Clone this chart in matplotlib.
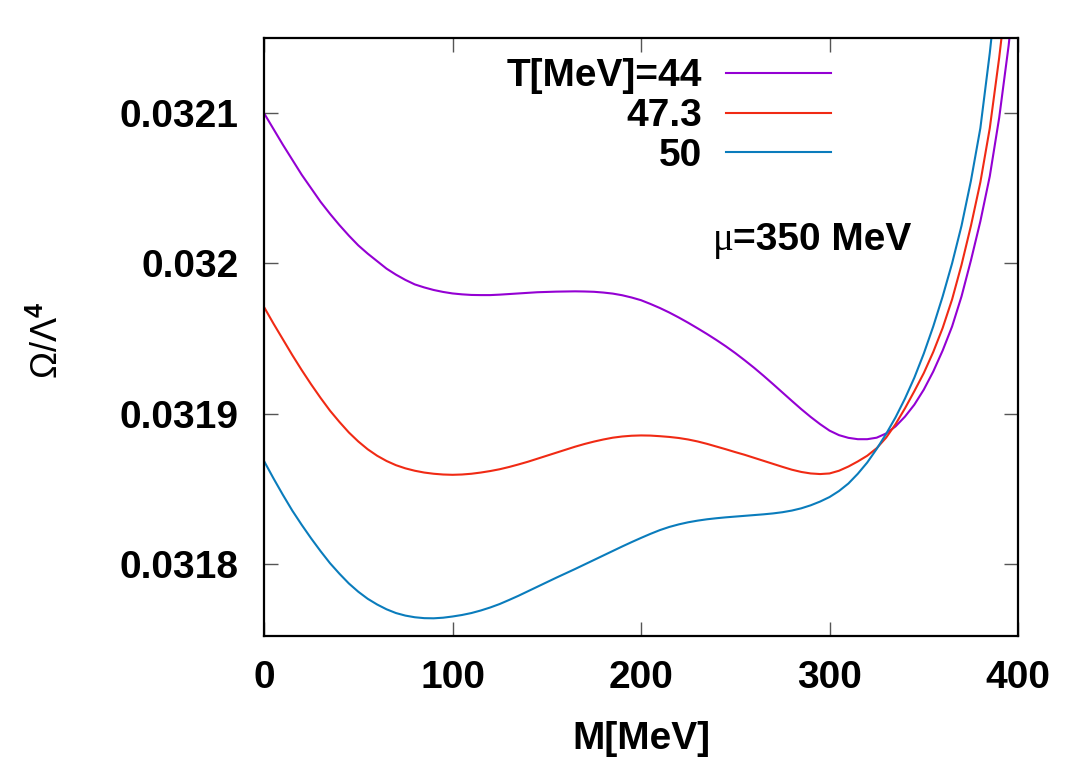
import matplotlib
matplotlib.use('Agg')
import matplotlib.pyplot as plt
from matplotlib.ticker import FixedLocator, FixedFormatter

plt.rcParams['font.family'] = ['Liberation Sans', 'DejaVu Sans']
plt.rcParams['mathtext.fontset'] = 'custom'
plt.rcParams['mathtext.rm'] = 'Liberation Sans'
plt.rcParams['mathtext.bf'] = 'Liberation Sans:bold'

# values, M in MeV
m_grid = [0, 5, 10, 15, 20, 25, 30, 35, 40, 45, 50, 55, 60, 65, 70, 75, 80, 85, 90, 95,
          100, 105, 110, 115, 120, 125, 130, 135, 140, 145, 150, 155, 160, 165, 170, 175,
          180, 185, 190, 195, 200, 205, 210, 215, 220, 225, 230, 235, 240, 245, 250, 255,
          260, 265, 270, 275, 280, 285, 290, 295, 300, 305, 310, 315, 320, 325, 330, 335,
          340, 345, 350, 355, 360, 365, 370, 375, 380, 385, 390, 395]

m_44 = m_grid + [398]
omega_44 = [0.0321000, 0.0320895, 0.0320790, 0.0320690, 0.0320590, 0.0320500, 0.0320410,
            0.0320330, 0.0320255, 0.0320185, 0.0320120, 0.0320065, 0.0320015, 0.0319965,
            0.0319925, 0.0319890, 0.0319860, 0.0319840, 0.0319823, 0.0319810, 0.0319800,
            0.0319794, 0.0319790, 0.0319789, 0.0319789, 0.0319792, 0.0319796, 0.0319800,
            0.0319804, 0.0319808, 0.0319810, 0.0319812, 0.0319813, 0.0319814, 0.0319813,
            0.0319811, 0.0319806, 0.0319799, 0.0319788, 0.0319773, 0.0319755, 0.0319730,
            0.0319703, 0.0319673, 0.0319640, 0.0319605, 0.0319568, 0.0319530, 0.0319490,
            0.0319448, 0.0319403, 0.0319355, 0.0319305, 0.0319252, 0.0319197, 0.0319141,
            0.0319085, 0.0319030, 0.0318978, 0.0318930, 0.0318887, 0.0318857, 0.0318839,
            0.0318830, 0.0318830, 0.0318840, 0.0318868, 0.0318915, 0.0318980, 0.0319060,
            0.0319160, 0.0319280, 0.0319420, 0.0319580, 0.0319780, 0.0320020, 0.0320280,
            0.0320580, 0.0320970, 0.0321450, 0.0321800]

m_473 = m_grid[:79] + [394]
omega_473 = [0.0319710, 0.0319600, 0.0319495, 0.0319390, 0.0319290, 0.0319195, 0.0319105,
             0.0319020, 0.0318945, 0.0318875, 0.0318815, 0.0318763, 0.0318720, 0.0318685,
             0.0318657, 0.0318636, 0.0318620, 0.0318608, 0.0318600, 0.0318595, 0.0318593,
             0.0318595, 0.0318600, 0.0318608, 0.0318618, 0.0318630, 0.0318645, 0.0318662,
             0.0318680, 0.0318700, 0.0318720, 0.0318740, 0.0318760, 0.0318780, 0.0318798,
             0.0318814, 0.0318828, 0.0318840, 0.0318848, 0.0318853, 0.0318855, 0.0318854,
             0.0318850, 0.0318845, 0.0318838, 0.0318828, 0.0318815, 0.0318799, 0.0318781,
             0.0318763, 0.0318744, 0.0318726, 0.0318706, 0.0318686, 0.0318666, 0.0318646,
             0.0318627, 0.0318612, 0.0318602, 0.0318598, 0.0318602, 0.0318620, 0.0318648,
             0.0318682, 0.0318720, 0.0318770, 0.0318840, 0.0318930, 0.0319035, 0.0319150,
             0.0319270, 0.0319410, 0.0319570, 0.0319760, 0.0319990, 0.0320250, 0.0320540,
             0.0320900, 0.0321370, 0.0321800]

m_50 = m_grid[:78] + [388]
omega_50 = [0.0318685, 0.0318570, 0.0318460, 0.0318355, 0.0318260, 0.0318170, 0.0318085,
            0.0318005, 0.0317935, 0.0317870, 0.0317815, 0.0317768, 0.0317730, 0.0317698,
            0.0317673, 0.0317656, 0.0317645, 0.0317639, 0.0317638, 0.0317642, 0.0317650,
            0.0317660, 0.0317673, 0.0317690, 0.0317710, 0.0317733, 0.0317760, 0.0317788,
            0.0317818, 0.0317848, 0.0317878, 0.0317908, 0.0317937, 0.0317966, 0.0317996,
            0.0318026, 0.0318056, 0.0318086, 0.0318116, 0.0318145, 0.0318173, 0.0318200,
            0.0318225, 0.0318246, 0.0318263, 0.0318277, 0.0318288, 0.0318297, 0.0318304,
            0.0318310, 0.0318315, 0.0318320, 0.0318325, 0.0318330, 0.0318336, 0.0318344,
            0.0318355, 0.0318370, 0.0318390, 0.0318415, 0.0318445, 0.0318485, 0.0318535,
            0.0318600, 0.0318675, 0.0318765, 0.0318865, 0.0318975, 0.0319100, 0.0319240,
            0.0319400, 0.0319580, 0.0319780, 0.0320000, 0.0320250, 0.0320550, 0.0320900,
            0.0321400, 0.0321750]

labels = ['T[MeV]=44', '47.3', '50']
colors = ['#9400d3', '#f02a14', '#0a7cbc']

x_ticks = [0, 100, 200, 300, 400]
y_ticks = [0.0318, 0.0319, 0.032, 0.0321]
y_tick_labels = ['0.0318', '0.0319', '0.032', '0.0321']

fig = plt.figure(figsize=(10.9, 7.63), dpi=100)
ax = fig.add_axes([0.2422, 0.1664, 0.6918, 0.7838])

for m, om, lab, c in zip([m_44, m_473, m_50], [omega_44, omega_473, omega_50], labels, colors):
    ax.plot(m, om, color=c, lw=1.5, label=lab)

ax.set_xlim(0, 400)
ax.set_ylim(0.031752, 0.03215)
ax.xaxis.set_major_locator(FixedLocator(x_ticks))
ax.yaxis.set_major_locator(FixedLocator(y_ticks))
ax.yaxis.set_major_formatter(FixedFormatter(y_tick_labels))
ax.tick_params(direction='in', length=10, width=1, color='#555555', top=True, right=True,
               labelsize=28)
ax.tick_params(axis='y', pad=18.5)
ax.tick_params(axis='x', pad=17.5)
for t in ax.get_xticklabels() + ax.get_yticklabels():
    t.set_fontweight('bold')
for s in ax.spines.values():
    s.set_linewidth(1.6)

ax.set_xlabel('M[MeV]', fontsize=28, fontweight='bold')
ax.xaxis.set_label_coords(0.5, -0.142)
ax.set_ylabel(r'$\Omega/\Lambda^{\mathbf{4}}$', fontsize=26)
ax.yaxis.set_label_coords(-0.262, 0.495)

leg = ax.legend(loc='upper right', bbox_to_anchor=(0.752, 0.966), frameon=False,
                markerfirst=False, handlelength=2.7, handletextpad=0.62,
                labelspacing=0.1, borderpad=0, borderaxespad=0,
                prop={'size': 28, 'weight': 'bold'})

ax.text(0.5955, 0.662, 'μ', transform=ax.transAxes, fontsize=28, family='Liberation Serif',
        va='center', ha='left')
ax.text(0.622, 0.662, '=350 MeV', transform=ax.transAxes, fontsize=28, fontweight='bold',
        va='center', ha='left')

fig.savefig('out.png', dpi=100)
